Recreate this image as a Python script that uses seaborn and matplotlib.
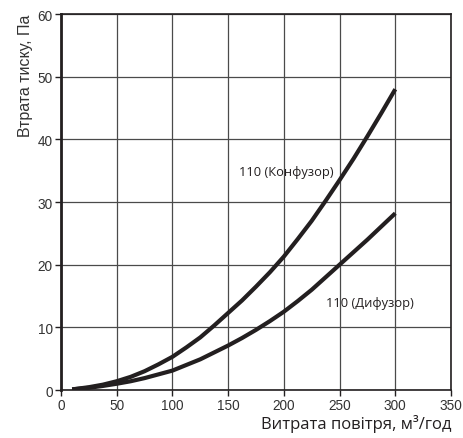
import matplotlib
matplotlib.use("Agg")
import matplotlib.pyplot as plt
import seaborn as sns
import pandas as pd

# Data
flow = [10, 25, 37.5, 50, 62.5, 75, 87.5, 100, 112.5, 125, 137.5, 150, 162.5,
        175, 187.5, 200, 212.5, 225, 237.5, 250, 262.5, 275, 287.5, 300]
konfuzor = [0.1, 0.45, 0.85, 1.4, 2.1, 3.0, 4.1, 5.3, 6.8, 8.4, 10.3, 12.3, 14.3,
            16.5, 18.8, 21.3, 24.1, 27.0, 30.2, 33.5, 36.9, 40.5, 44.2, 48.0]
dyfuzor = [0.1, 0.35, 0.65, 1.0, 1.4, 1.9, 2.5, 3.1, 4.0, 4.9, 6.0, 7.1, 8.3,
           9.6, 11.0, 12.5, 14.2, 16.0, 18.0, 20.0, 22.0, 24.0, 26.1, 28.2]
label_konf = "110 (Конфузор)"
label_dyf = "110 (Дифузор)"
x_ticks = [0, 50, 100, 150, 200, 250, 300, 350]
y_ticks = [0, 10, 20, 30, 40, 50, 60]

sns.set_theme(style="ticks")
plt.rcParams['font.family'] = ['Liberation Sans', 'DejaVu Sans']

df = pd.DataFrame({
    "flow": flow * 2,
    "loss": konfuzor + dyfuzor,
    "series": [label_konf] * len(flow) + [label_dyf] * len(flow),
})

fig = plt.figure(figsize=(4.64, 4.39), dpi=100)
ax = fig.add_axes([0.1315, 0.1093, 0.8405, 0.8565])

ax.set_axisbelow(True)
ax.grid(True, color="#4a4a4a", linewidth=0.9)

sns.lineplot(data=df, x="flow", y="loss", hue="series",
             palette={label_konf: "#231f20", label_dyf: "#231f20"},
             linewidth=3.0, legend=False, ax=ax, solid_capstyle="butt")

ax.set_xlim(0, 350)
ax.set_ylim(0, 60)
ax.set_xticks(x_ticks)
ax.set_yticks(y_ticks)
ax.tick_params(axis="both", labelsize=9.8, colors="#231f20", labelcolor="#333333",
               length=4, width=1, pad=2)

for s in ["top", "right", "bottom"]:
    ax.spines[s].set_color("#231f20")
    ax.spines[s].set_linewidth(1.2)
ax.spines["left"].set_color("#231f20")
ax.spines["left"].set_linewidth(2.0)

ax.set_xlabel("Витрата повітря, м³/год", loc="right", fontsize=12, color="#231f20",
              family=["Open Sans", "DejaVu Sans"], labelpad=1)
ax.set_ylabel("Втрата тиску, Па", loc="top", fontsize=11.5, color="#333333", labelpad=3)

ax.text(202, 34.8, label_konf, ha="center", va="center", fontsize=9.3,
        color="#231f20", family=["Open Sans", "DejaVu Sans"])
ax.text(277, 14.0, label_dyf, ha="center", va="center", fontsize=9.3,
        color="#231f20", family=["Open Sans", "DejaVu Sans"])

fig.savefig("out.png", dpi=100)
